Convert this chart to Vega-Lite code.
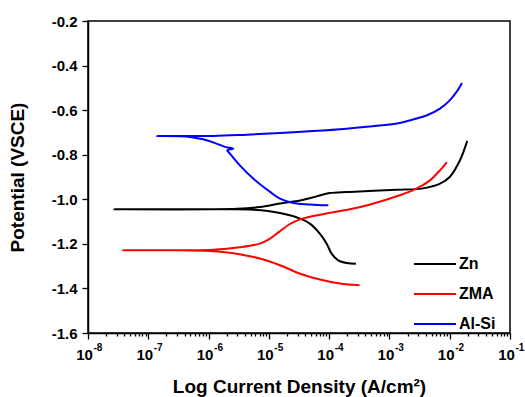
{
  "$schema": "https://vega.github.io/schema/vega-lite/v6.json",
  "width": 422,
  "height": 312,
  "autosize": {"type": "none"},
  "padding": {"left": 88, "top": 21, "right": 15, "bottom": 64},
  "background": "white",
  "config": {
    "font": "Liberation Sans",
    "view": {"stroke": "black", "strokeWidth": 1.5},
    "axis": {
      "grid": false,
      "domainColor": "black",
      "domainWidth": 1.5,
      "tickColor": "black",
      "tickWidth": 1.3,
      "labelColor": "black",
      "titleColor": "black",
      "labelFont": "Liberation Sans",
      "titleFont": "Liberation Sans",
      "labelFontWeight": "bold",
      "titleFontWeight": "bold",
      "labelFontSize": 15,
      "titleFontSize": 19,
      "labelOverlap": false,
      "labelFlush": false,
      "labelBound": false
    }
  },
  "data": {
    "values": [
      {"s": "Zn", "i": 1, "x": 2.78e-4, "y": -1.289},
      {"s": "Zn", "i": 2, "x": 1.95e-4, "y": -1.286},
      {"s": "Zn", "i": 3, "x": 1.41e-4, "y": -1.274},
      {"s": "Zn", "i": 4, "x": 1.10e-4, "y": -1.244},
      {"s": "Zn", "i": 5, "x": 9.1e-5, "y": -1.199},
      {"s": "Zn", "i": 6, "x": 7.0e-5, "y": -1.154},
      {"s": "Zn", "i": 7, "x": 4.8e-5, "y": -1.109},
      {"s": "Zn", "i": 8, "x": 3.3e-5, "y": -1.087},
      {"s": "Zn", "i": 9, "x": 1.53e-5, "y": -1.062},
      {"s": "Zn", "i": 10, "x": 5.5e-6, "y": -1.047},
      {"s": "Zn", "i": 11, "x": 1.74e-6, "y": -1.045},
      {"s": "Zn", "i": 12, "x": 2.75e-8, "y": -1.045},
      {"s": "Zn", "i": 13, "x": 3.0e-6, "y": -1.043},
      {"s": "Zn", "i": 14, "x": 7.1e-6, "y": -1.035},
      {"s": "Zn", "i": 15, "x": 1.53e-5, "y": -1.019},
      {"s": "Zn", "i": 16, "x": 3.3e-5, "y": -1.005},
      {"s": "Zn", "i": 17, "x": 6.2e-5, "y": -0.987},
      {"s": "Zn", "i": 18, "x": 1.02e-4, "y": -0.972},
      {"s": "Zn", "i": 19, "x": 1.95e-4, "y": -0.967},
      {"s": "Zn", "i": 20, "x": 4.5e-4, "y": -0.963},
      {"s": "Zn", "i": 21, "x": 1.32e-3, "y": -0.957},
      {"s": "Zn", "i": 22, "x": 3.6e-3, "y": -0.951},
      {"s": "Zn", "i": 23, "x": 6.9e-3, "y": -0.930},
      {"s": "Zn", "i": 24, "x": 1.0e-2, "y": -0.900},
      {"s": "Zn", "i": 25, "x": 1.48e-2, "y": -0.825},
      {"s": "Zn", "i": 26, "x": 1.95e-2, "y": -0.738},
      {"s": "ZMA", "i": 1, "x": 3.2e-4, "y": -1.386},
      {"s": "ZMA", "i": 2, "x": 1.51e-4, "y": -1.378},
      {"s": "ZMA", "i": 3, "x": 7.0e-5, "y": -1.360},
      {"s": "ZMA", "i": 4, "x": 3.3e-5, "y": -1.334},
      {"s": "ZMA", "i": 5, "x": 1.53e-5, "y": -1.296},
      {"s": "ZMA", "i": 6, "x": 7.1e-6, "y": -1.266},
      {"s": "ZMA", "i": 7, "x": 3.6e-6, "y": -1.249},
      {"s": "ZMA", "i": 8, "x": 1.9e-6, "y": -1.238},
      {"s": "ZMA", "i": 9, "x": 1.0e-6, "y": -1.232},
      {"s": "ZMA", "i": 10, "x": 3.4e-7, "y": -1.229},
      {"s": "ZMA", "i": 11, "x": 3.8e-8, "y": -1.229},
      {"s": "ZMA", "i": 12, "x": 1.2e-6, "y": -1.226},
      {"s": "ZMA", "i": 13, "x": 3.3e-6, "y": -1.215},
      {"s": "ZMA", "i": 14, "x": 7.1e-6, "y": -1.199},
      {"s": "ZMA", "i": 15, "x": 1.0e-5, "y": -1.180},
      {"s": "ZMA", "i": 16, "x": 1.5e-5, "y": -1.145},
      {"s": "ZMA", "i": 17, "x": 2.2e-5, "y": -1.112},
      {"s": "ZMA", "i": 18, "x": 3.3e-5, "y": -1.090},
      {"s": "ZMA", "i": 19, "x": 9.1e-5, "y": -1.064},
      {"s": "ZMA", "i": 20, "x": 2.2e-4, "y": -1.045},
      {"s": "ZMA", "i": 21, "x": 4.8e-4, "y": -1.023},
      {"s": "ZMA", "i": 22, "x": 1.48e-3, "y": -0.982},
      {"s": "ZMA", "i": 23, "x": 2.8e-3, "y": -0.952},
      {"s": "ZMA", "i": 24, "x": 4.7e-3, "y": -0.915},
      {"s": "ZMA", "i": 25, "x": 6.9e-3, "y": -0.870},
      {"s": "ZMA", "i": 26, "x": 9.0e-3, "y": -0.833},
      {"s": "Al-Si", "i": 1, "x": 9.7e-5, "y": -1.027},
      {"s": "Al-Si", "i": 2, "x": 4.8e-5, "y": -1.023},
      {"s": "Al-Si", "i": 3, "x": 2.54e-5, "y": -1.017},
      {"s": "Al-Si", "i": 4, "x": 1.53e-5, "y": -0.997},
      {"s": "Al-Si", "i": 5, "x": 1.05e-5, "y": -0.967},
      {"s": "Al-Si", "i": 6, "x": 5.5e-6, "y": -0.907},
      {"s": "Al-Si", "i": 7, "x": 3.3e-6, "y": -0.848},
      {"s": "Al-Si", "i": 8, "x": 2.26e-6, "y": -0.795},
      {"s": "Al-Si", "i": 9, "x": 2.04e-6, "y": -0.780},
      {"s": "Al-Si", "i": 10, "x": 2.57e-6, "y": -0.773},
      {"s": "Al-Si", "i": 11, "x": 1.87e-6, "y": -0.765},
      {"s": "Al-Si", "i": 12, "x": 1.36e-6, "y": -0.750},
      {"s": "Al-Si", "i": 13, "x": 8.1e-7, "y": -0.731},
      {"s": "Al-Si", "i": 14, "x": 4.9e-7, "y": -0.720},
      {"s": "Al-Si", "i": 15, "x": 1.38e-7, "y": -0.716},
      {"s": "Al-Si", "i": 16, "x": 1.2e-6, "y": -0.716},
      {"s": "Al-Si", "i": 17, "x": 4.3e-6, "y": -0.710},
      {"s": "Al-Si", "i": 18, "x": 1.53e-5, "y": -0.703},
      {"s": "Al-Si", "i": 19, "x": 5.4e-5, "y": -0.694},
      {"s": "Al-Si", "i": 20, "x": 1.95e-4, "y": -0.683},
      {"s": "Al-Si", "i": 21, "x": 6.9e-4, "y": -0.669},
      {"s": "Al-Si", "i": 22, "x": 1.48e-3, "y": -0.658},
      {"s": "Al-Si", "i": 23, "x": 2.45e-3, "y": -0.642},
      {"s": "Al-Si", "i": 24, "x": 4.2e-3, "y": -0.623},
      {"s": "Al-Si", "i": 25, "x": 6.9e-3, "y": -0.593},
      {"s": "Al-Si", "i": 26, "x": 1.0e-2, "y": -0.556},
      {"s": "Al-Si", "i": 27, "x": 1.3e-2, "y": -0.518},
      {"s": "Al-Si", "i": 28, "x": 1.6e-2, "y": -0.478}
    ]
  },
  "resolve": {"axis": {"x": "independent"}},
  "layer": [
    {
      "mark": {"type": "line", "strokeWidth": 2, "interpolate": "catmull-rom"},
      "encoding": {
        "x": {
          "field": "x",
          "type": "quantitative",
          "scale": {"type": "log", "domain": [1e-8, 0.1], "nice": false},
          "axis": {
            "orient": "bottom",
            "title": "Log Current Density (A/cm²)",
            "titlePadding": 15,
            "values": [1e-8, 2e-8, 3e-8, 4e-8, 5e-8, 6e-8, 7e-8, 8e-8, 9e-8,
                       1e-7, 2e-7, 3e-7, 4e-7, 5e-7, 6e-7, 7e-7, 8e-7, 9e-7,
                       1e-6, 2e-6, 3e-6, 4e-6, 5e-6, 6e-6, 7e-6, 8e-6, 9e-6,
                       1e-5, 2e-5, 3e-5, 4e-5, 5e-5, 6e-5, 7e-5, 8e-5, 9e-5,
                       1e-4, 2e-4, 3e-4, 4e-4, 5e-4, 6e-4, 7e-4, 8e-4, 9e-4,
                       1e-3, 2e-3, 3e-3, 4e-3, 5e-3, 6e-3, 7e-3, 8e-3, 9e-3,
                       1e-2, 2e-2, 3e-2, 4e-2, 5e-2, 6e-2, 7e-2, 8e-2, 9e-2, 1e-1],
            "labelExpr": "abs(log(datum.value)/LN10 - round(log(datum.value)/LN10)) < 0.01 ? '10' : ''",
            "labelFontSize": 15,
            "labelOffset": -4,
            "tickSize": {"condition": {"test": "abs(log(datum.value)/LN10 - round(log(datum.value)/LN10)) < 0.01", "value": 6}, "value": 3},
            "labelPadding": 8
          }
        },
        "y": {
          "field": "y",
          "type": "quantitative",
          "scale": {"domain": [-1.6, -0.2], "nice": false, "zero": false},
          "axis": {
            "title": "Potential (VSCE)",
            "titlePadding": 24,
            "values": [-1.6, -1.5, -1.4, -1.3, -1.2, -1.1, -1.0, -0.9, -0.8, -0.7, -0.6, -0.5, -0.4, -0.3, -0.2],
            "labelExpr": "abs(datum.value*5 - round(datum.value*5)) < 0.01 ? replace(format(datum.value, '.1f'), '\u2212', '-') : ''",
            "tickSize": {"condition": {"test": "abs(datum.value*5 - round(datum.value*5)) < 0.01", "value": 6}, "value": 3},
            "labelPadding": 5
          }
        },
        "color": {
          "field": "s",
          "type": "nominal",
          "sort": ["Zn", "ZMA", "Al-Si"],
          "scale": {"domain": ["Zn", "ZMA", "Al-Si"], "range": ["#000000", "#ff0000", "#0000ff"]},
          "legend": {
            "title": null,
            "orient": "none",
            "legendX": 325,
            "legendY": 221,
            "symbolType": "stroke",
            "symbolSize": 1764,
            "symbolStrokeWidth": 2,
            "labelFont": "Liberation Sans",
            "labelFontWeight": "bold",
            "labelFontSize": 16,
            "labelColor": "black",
            "rowPadding": -26,
            "labelOffset": 2
          }
        },
        "order": {"field": "i", "type": "quantitative"}
      }
    },
    {
      "mark": {"type": "point", "opacity": 0},
      "encoding": {
        "x": {
          "field": "x",
          "type": "quantitative",
          "axis": {
            "orient": "bottom",
            "title": null,
            "domain": false,
            "ticks": false,
            "values": [1e-8, 1e-7, 1e-6, 1e-5, 1e-4, 1e-3, 1e-2, 1e-1],
            "labelExpr": "'-' + round(-log(datum.value)/LN10)",
            "labelFontSize": 10,
            "labelAlign": "left",
            "labelBaseline": "top",
            "labelOffset": 5,
            "labelPadding": 9
          }
        },
        "y": {"field": "y", "type": "quantitative"}
      }
    }
  ]
}
